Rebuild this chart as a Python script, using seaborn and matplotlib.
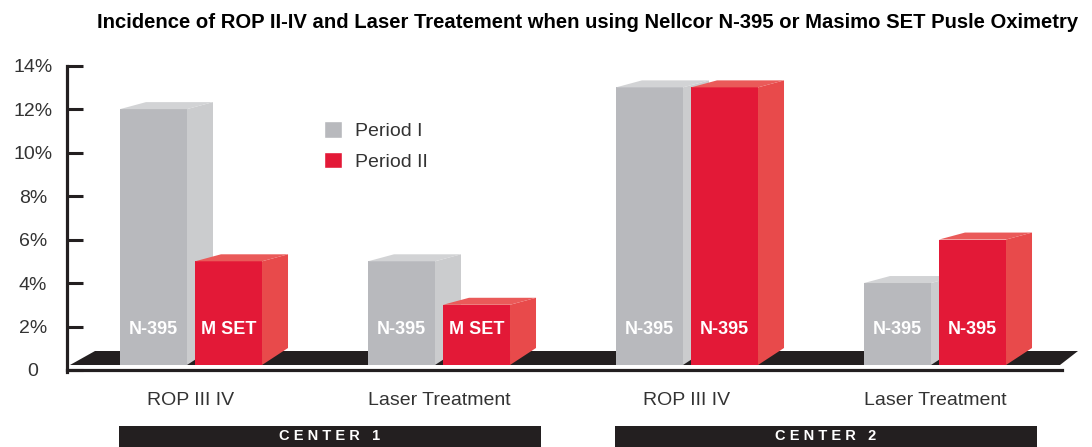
import numpy as np
import pandas as pd
import matplotlib
matplotlib.use("Agg")
import matplotlib.pyplot as plt
import matplotlib.transforms as mtransforms
from matplotlib.patches import Polygon, Rectangle
import seaborn as sns

# ---------------- data ----------------
title = "Incidence of ROP II-IV and Laser Treatement when using Nellcor N-395 or Masimo SET Pusle Oximetry"
categories = ["C1-ROP", "C1-Laser", "C2-ROP", "C2-Laser"]
tick_labels = ["ROP III IV", "Laser Treatment", "ROP III IV", "Laser Treatment"]
periods = ["Period I", "Period II"]
period1 = [12, 5, 13, 4]
period2 = [5, 3, 13, 6]
bar_labels1 = ["N-395", "N-395", "N-395", "N-395"]
bar_labels2 = ["M SET", "M SET", "N-395", "N-395"]
centers = ["CENTER 1", "CENTER 2"]
center_groups = [(0, 1), (2, 3)]
yticks = [0, 2, 4, 6, 8, 10, 12, 14]
ytick_labels = ["0", "2%", "4%", "6%", "8%", "10%", "12%", "14%"]

# ---------------- style ----------------
GRAY_FRONT, GRAY_SIDE, GRAY_TOP = "#B8B9BD", "#CBCCCE", "#D2D3D5"
RED_FRONT, RED_SIDE, RED_TOP = "#E31937", "#E84A4B", "#EA5A59"
DARK = "#231F20"
TEXT = "#333333"

sns.set_style("white")
plt.rcParams["font.family"] = ["Liberation Sans", "DejaVu Sans"]

df = pd.DataFrame({
    "cat": categories * 2,
    "period": [periods[0]] * 4 + [periods[1]] * 4,
    "value": period1 + period2,
})

W_PX, H_PX = 1092, 447
fig = plt.figure(figsize=(W_PX / 100, H_PX / 100), dpi=100)
ax_left_px, ax_right_px, ax_top_px, ax_bot_px = 66.5, 1085, 55, 370
ax = fig.add_axes([ax_left_px / W_PX, (H_PX - ax_bot_px) / H_PX,
                   (ax_right_px - ax_left_px) / W_PX, (ax_bot_px - ax_top_px) / H_PX])

PX_PER_CAT = 248.0
PX_PER_UNIT = 21.74
X0_PX = 191.0

sns.barplot(data=df, x="cat", y="value", hue="period", order=categories,
            hue_order=periods, palette=[GRAY_FRONT, RED_FRONT], saturation=1,
            width=0.605, gap=0.107, errorbar=None, ax=ax, legend=True)

ax.set_xlim((ax_left_px - X0_PX) / PX_PER_CAT, (ax_right_px - X0_PX) / PX_PER_CAT)
ax.set_ylim(0, (ax_bot_px - ax_top_px) / PX_PER_UNIT)

base = 5 / PX_PER_UNIT
dx = 26 / PX_PER_CAT
dy_top = 7 / PX_PER_UNIT
dy_bot = 17 / PX_PER_UNIT

floor = Polygon([[(70 - X0_PX) / PX_PER_CAT, base],
                 [(1060 - X0_PX) / PX_PER_CAT, base],
                 [(1078 - X0_PX) / PX_PER_CAT, base + 14 / PX_PER_UNIT],
                 [(95 - X0_PX) / PX_PER_CAT, base + 14 / PX_PER_UNIT]],
                closed=True, facecolor=DARK, edgecolor="none", zorder=1)
ax.add_patch(floor)

side_cols = [GRAY_SIDE, RED_SIDE]
top_cols = [GRAY_TOP, RED_TOP]
label_sets = [bar_labels1, bar_labels2]
for h, cont in enumerate(ax.containers):
    for i, p in enumerate(cont.patches):
        x0 = p.get_x()
        x1 = x0 + p.get_width()
        top = p.get_height()
        p.set_y(base)
        p.set_height(top - base)
        p.set_edgecolor("none")
        z = 3 + h * 0.2
        p.set_zorder(z)
        side = Polygon([[x1, base], [x1, top], [x1 + dx, top + dy_top], [x1 + dx, base + dy_bot]],
                       closed=True, facecolor=side_cols[h], edgecolor="none", zorder=z + 0.1)
        topf = Polygon([[x0, top], [x1, top], [x1 + dx, top + dy_top], [x0 + dx, top + dy_top]],
                       closed=True, facecolor=top_cols[h], edgecolor="none", zorder=z + 0.1)
        ax.add_patch(side)
        ax.add_patch(topf)
        ax.text((x0 + x1) / 2, 41 / PX_PER_UNIT, label_sets[h][i], color="white",
                fontsize=13, fontweight="bold", ha="center", va="center", zorder=z + 0.15)

sns.despine(ax=ax, top=True, right=True)
for s in ["left", "bottom"]:
    ax.spines[s].set_linewidth(2.3)
    ax.spines[s].set_color(DARK)
    ax.spines[s].set_zorder(5)
ax.spines["left"].set_bounds(-0.07, 14)
ax.spines["bottom"].set_bounds(ax.get_xlim()[0], (1062 - X0_PX) / PX_PER_CAT)

ax.set_yticks(yticks)
ax.set_yticklabels(ytick_labels)
ax.tick_params(axis="y", left=True, direction="in", length=11.5, width=2.2, color=DARK,
               pad=24, labelsize=14, labelcolor=TEXT)
for t in ax.get_yticklabels():
    t.set_horizontalalignment("center")
ax.set_xticks(range(len(categories)))
ax.set_xticklabels(tick_labels)
ax.tick_params(axis="x", bottom=False, length=0, pad=16, labelsize=14, labelcolor=TEXT)
ax.set_xlabel("")
ax.set_ylabel("")
ax.grid(False)

handles, labels = ax.get_legend_handles_labels()
if ax.get_legend() is not None:
    ax.get_legend().remove()
leg = ax.legend(handles, labels, loc="upper left",
                bbox_to_anchor=(324 / W_PX, 1 - 121 / H_PX), bbox_transform=fig.transFigure,
                frameon=False, fontsize=14, handlelength=0.93, handleheight=0.93,
                handletextpad=0.68, labelspacing=0.6, borderpad=0, borderaxespad=0)
for t in leg.get_texts():
    t.set_color(TEXT)

trans = mtransforms.blended_transform_factory(ax.transData, fig.transFigure)
for name, (a, b) in zip(centers, center_groups):
    xl = a - 0.29
    xr = b + 0.41
    rect = Rectangle((xl, 0), xr - xl, 21 / H_PX, transform=trans, facecolor=DARK,
                     edgecolor="none", clip_on=False)
    fig.add_artist(rect)
    fig.text((xl + xr) / 2, 10.5 / H_PX, " ".join(list(name)), transform=trans,
             color="white", fontsize=10.5, fontweight="bold", ha="center", va="center")

fig.text(588 / W_PX, 1 - 22 / H_PX, title, fontsize=14.6, fontweight="bold",
         color="black", ha="center", va="center")

fig.savefig("out.png", dpi=100)
